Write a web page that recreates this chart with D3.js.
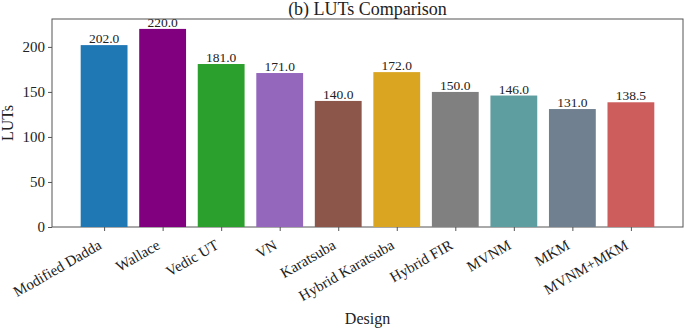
<!DOCTYPE html>
<html>
<head>
<meta charset="utf-8">
<script src="https://cdn.jsdelivr.net/npm/d3@7"></script>
<style>
  body { margin: 0; background: #fff; }
  svg text { font-family: 'Liberation Serif', 'Times New Roman', Times, serif; fill: #222; }
</style>
</head>
<body>
<svg width="685" height="331"></svg>
<script>
const designs = ['Modified Dadda', 'Wallace', 'Vedic UT', 'VN', 'Karatsuba',
  'Hybrid Karatsuba', 'Hybrid FIR', 'MVNM', 'MKM', 'MVNM+MKM'];
const luts = [202.0, 220.0, 181.0, 171.0, 140.0, 172.0, 150.0, 146.0, 131.0, 138.5];
const barColors = ['#1f77b4', '#800080', '#2ca02c', '#9467bd', '#8c564b',
  '#daa520', '#808080', '#5f9ea0', '#708090', '#cd5c5c'];
const yTicks = [0, 50, 100, 150, 200];

const svg = d3.select('svg');
const margin = { top: 19, right: 2, bottom: 104, left: 52 };
const width = +svg.attr('width');
const height = +svg.attr('height');
const innerWidth = width - margin.left - margin.right;
const innerHeight = height - margin.top - margin.bottom;

const g = svg.append('g')
  .attr('transform', `translate(${margin.left}, ${margin.top})`);

// matplotlib style x limits: bars of width 0.8, 5% margin
const xScale = d3.scaleLinear()
  .domain([-0.89, designs.length - 1 + 0.89])
  .range([0, innerWidth]);

const yScale = d3.scaleLinear()
  .domain([0, d3.max(luts) * 1.05])
  .range([innerHeight, 0]);

const bw = xScale(0.8) - xScale(0);

// frame first so labels sit on top
g.append('rect')
  .attr('width', innerWidth)
  .attr('height', innerHeight)
  .attr('fill', 'none')
  .attr('stroke', '#555')
  .attr('stroke-width', 1);

g.selectAll('rect.bar').data(luts).enter().append('rect')
  .attr('class', 'bar')
  .attr('x', (d, i) => xScale(i - 0.4))
  .attr('y', d => yScale(d))
  .attr('width', bw)
  .attr('height', d => innerHeight - yScale(d))
  .attr('fill', (d, i) => barColors[i]);

g.selectAll('text.val').data(luts).enter().append('text')
  .attr('class', 'val')
  .attr('x', (d, i) => xScale(i))
  .attr('y', d => yScale(d) - 2)
  .attr('text-anchor', 'middle')
  .style('font-size', '13.5px')
  .text(d => d.toFixed(1));

const yAxis = d3.axisLeft(yScale)
  .tickValues(yTicks)
  .tickSize(4)
  .tickPadding(3);
const yAxisG = g.append('g').call(yAxis);
yAxisG.select('.domain').remove();
yAxisG.selectAll('line').attr('stroke', '#555');
yAxisG.selectAll('text').style('font-size', '15px');

const xAxis = d3.axisBottom(xScale)
  .tickValues(d3.range(designs.length))
  .tickFormat(i => designs[i])
  .tickSize(4);
const xAxisG = g.append('g')
  .attr('transform', `translate(0, ${innerHeight})`)
  .call(xAxis);
xAxisG.select('.domain').remove();
xAxisG.selectAll('line').attr('stroke', '#555');
xAxisG.selectAll('text')
  .style('font-size', '15px')
  .attr('text-anchor', 'end')
  .attr('x', 0)
  .attr('y', 0)
  .attr('dy', 0)
  .attr('transform', 'translate(-2, 21) rotate(-30)');

svg.append('text')
  .attr('x', 13)
  .attr('y', margin.top + innerHeight / 2)
  .attr('transform', `rotate(-90, 13, ${margin.top + innerHeight / 2})`)
  .attr('text-anchor', 'middle')
  .style('font-size', '16px')
  .text('LUTs');

svg.append('text')
  .attr('x', margin.left + innerWidth / 2)
  .attr('y', 324)
  .attr('text-anchor', 'middle')
  .style('font-size', '16px')
  .text('Design');

svg.append('text')
  .attr('x', margin.left + innerWidth / 2)
  .attr('y', 15)
  .attr('text-anchor', 'middle')
  .style('font-size', '18px')
  .text('(b) LUTs Comparison');
</script>
</body>
</html>
